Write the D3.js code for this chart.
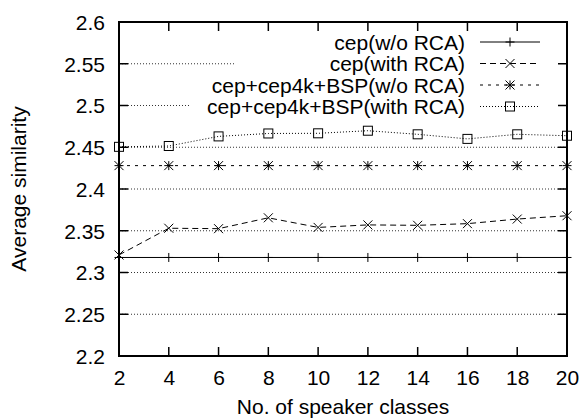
<!DOCTYPE html>
<html>
<head>
<meta charset="utf-8">
<script src="https://cdn.jsdelivr.net/npm/d3@7/dist/d3.min.js"></script>
<style>
  html, body { margin: 0; padding: 0; background: #fff; }
  svg { display: block; }
  text { font-family: "Liberation Sans", Arial, sans-serif; fill: #000; }
</style>
</head>
<body>
<svg id="chart" width="583" height="419"></svg>
<script>
// ---- data ----
const classes = [2, 4, 6, 8, 10, 12, 14, 16, 18, 20];
const cepNoRCA = [2.318, 2.318, 2.318, 2.318, 2.318, 2.318, 2.318, 2.318, 2.318, 2.318];
const cepRCA = [2.321, 2.353, 2.3525, 2.3655, 2.354, 2.357, 2.3565, 2.3585, 2.364, 2.368];
const bspNoRCA = [2.428, 2.428, 2.428, 2.428, 2.428, 2.428, 2.428, 2.428, 2.428, 2.428];
const bspRCA = [2.4505, 2.4515, 2.463, 2.4665, 2.4667, 2.4698, 2.4655, 2.46, 2.4655, 2.4638];
const seriesNames = ["cep(w/o RCA)", "cep(with RCA)", "cep+cep4k+BSP(w/o RCA)", "cep+cep4k+BSP(with RCA)"];
const yTicks = [2.2, 2.25, 2.3, 2.35, 2.4, 2.45, 2.5, 2.55, 2.6];
const xTicks = [2, 4, 6, 8, 10, 12, 14, 16, 18, 20];
const xTitle = "No. of speaker classes";
const yTitle = "Average similarity";

// ---- layout ----
const L = 119, R = 567, T = 22, B = 356;
const fontSize = 21;
const svg = d3.select("#chart");
const x = d3.scaleLinear().domain([2, 20]).range([L, R]);
const y = d3.scaleLinear().domain([2.2, 2.6]).range([B, T]);

const styles = [
  { dash: null, marker: "plus" },
  { dash: "6,4", marker: "cross" },
  { dash: "3,5", marker: "star" },
  { dash: "1,2", marker: "square" }
];
const seriesData = [cepNoRCA, cepRCA, bspNoRCA, bspRCA];

// legend geometry
const keyTextRight = 465, keyLineX0 = 480, keyLineX1 = 540;
const keyRowY = [42, 63.5, 85, 106.5];
// grid blank start (key area) per legend row
const keyBlankStart = [L, 236, L, 189];

// ---- grid ----
const grid = svg.append("g");
yTicks.forEach(v => {
  const yy = y(v);
  if (v === 2.2 || v === 2.6) return;
  let x1 = R;
  keyRowY.forEach((ry, i) => {
    if (Math.abs(ry - yy) < 8) x1 = keyBlankStart[i];
  });
  grid.append("line")
    .attr("x1", L).attr("x2", x1).attr("y1", yy).attr("y2", yy)
    .attr("stroke", "#333").attr("stroke-width", 1).attr("stroke-dasharray", "1,2");
});

// ---- axes (gnuplot style, mirrored ticks) ----
const tickLen = 9;
const axisL = d3.axisLeft(y).tickValues(yTicks).tickSize(0).tickPadding(14).tickFormat(d3.format(""));
const gl = svg.append("g").attr("transform", `translate(${L},0)`).call(axisL);
const axisB = d3.axisBottom(x).tickValues(xTicks).tickSize(0).tickPadding(14).tickFormat(d3.format("d"));
const gb = svg.append("g").attr("transform", `translate(0,${B})`).call(axisB);
[gl, gb].forEach(g => {
  g.select(".domain").remove();
  g.selectAll("text").attr("font-size", fontSize).attr("font-family", '"Liberation Sans", Arial, sans-serif').attr("fill", "#000");
});
gl.selectAll("text").attr("dy", "0.35em");
gb.selectAll("text").attr("dy", "0.71em");

const ticks = svg.append("g").attr("stroke", "#000").attr("stroke-width", 1.5);
yTicks.forEach(v => {
  if (v === 2.2 || v === 2.6) return;
  ticks.append("line").attr("x1", L).attr("x2", L + tickLen).attr("y1", y(v)).attr("y2", y(v));
  ticks.append("line").attr("x1", R).attr("x2", R - tickLen).attr("y1", y(v)).attr("y2", y(v));
});
xTicks.forEach(v => {
  if (v === 2 || v === 20) return;
  ticks.append("line").attr("x1", x(v)).attr("x2", x(v)).attr("y1", B).attr("y2", B - tickLen);
  ticks.append("line").attr("x1", x(v)).attr("x2", x(v)).attr("y1", T).attr("y2", T + tickLen);
});
svg.append("rect").attr("x", L).attr("y", T).attr("width", R - L).attr("height", B - T)
  .attr("fill", "none").attr("stroke", "#000").attr("stroke-width", 2);

// ---- titles ----
svg.append("text").attr("x", 343).attr("y", 414).attr("text-anchor", "middle")
  .attr("font-size", fontSize).text(xTitle);
svg.append("text").attr("transform", `translate(18,${(T + B) / 2}) rotate(-90)`)
  .attr("text-anchor", "middle").attr("dominant-baseline", "central").attr("font-size", fontSize).text(yTitle);

// ---- markers ----
function drawMarker(g, type, cx, cy) {
  const s = 4.5;
  const m = g.append("g").attr("stroke", "#000").attr("stroke-width", 1).attr("fill", "none");
  if (type === "plus" || type === "star") {
    m.append("line").attr("x1", cx - s).attr("x2", cx + s).attr("y1", cy).attr("y2", cy);
    m.append("line").attr("x1", cx).attr("x2", cx).attr("y1", cy - s).attr("y2", cy + s);
  }
  if (type === "cross" || type === "star") {
    m.append("line").attr("x1", cx - s).attr("x2", cx + s).attr("y1", cy - s).attr("y2", cy + s);
    m.append("line").attr("x1", cx - s).attr("x2", cx + s).attr("y1", cy + s).attr("y2", cy - s);
  }
  if (type === "square") {
    m.append("rect").attr("x", cx - s).attr("y", cy - s).attr("width", 2 * s).attr("height", 2 * s);
  }
}

// ---- series ----
const line = d3.line().x((d, i) => x(classes[i])).y(d => y(d));
seriesData.forEach((data, si) => {
  const g = svg.append("g");
  const p = g.append("path").datum(data).attr("d", line)
    .attr("fill", "none").attr("stroke", "#000").attr("stroke-width", 1);
  if (styles[si].dash) p.attr("stroke-dasharray", styles[si].dash);
  data.forEach((d, i) => drawMarker(g, styles[si].marker, x(classes[i]), y(d)));
});

// ---- legend ----
seriesNames.forEach((name, i) => {
  const ry = keyRowY[i];
  svg.append("text").attr("x", keyTextRight).attr("y", ry).attr("text-anchor", "end")
    .attr("dominant-baseline", "central").attr("font-size", fontSize).text(name);
  const l = svg.append("line").attr("x1", keyLineX0).attr("x2", keyLineX1).attr("y1", ry).attr("y2", ry)
    .attr("stroke", "#000").attr("stroke-width", 1);
  if (styles[i].dash) l.attr("stroke-dasharray", styles[i].dash);
  drawMarker(svg, styles[i].marker, (keyLineX0 + keyLineX1) / 2, ry);
});
</script>
</body>
</html>
